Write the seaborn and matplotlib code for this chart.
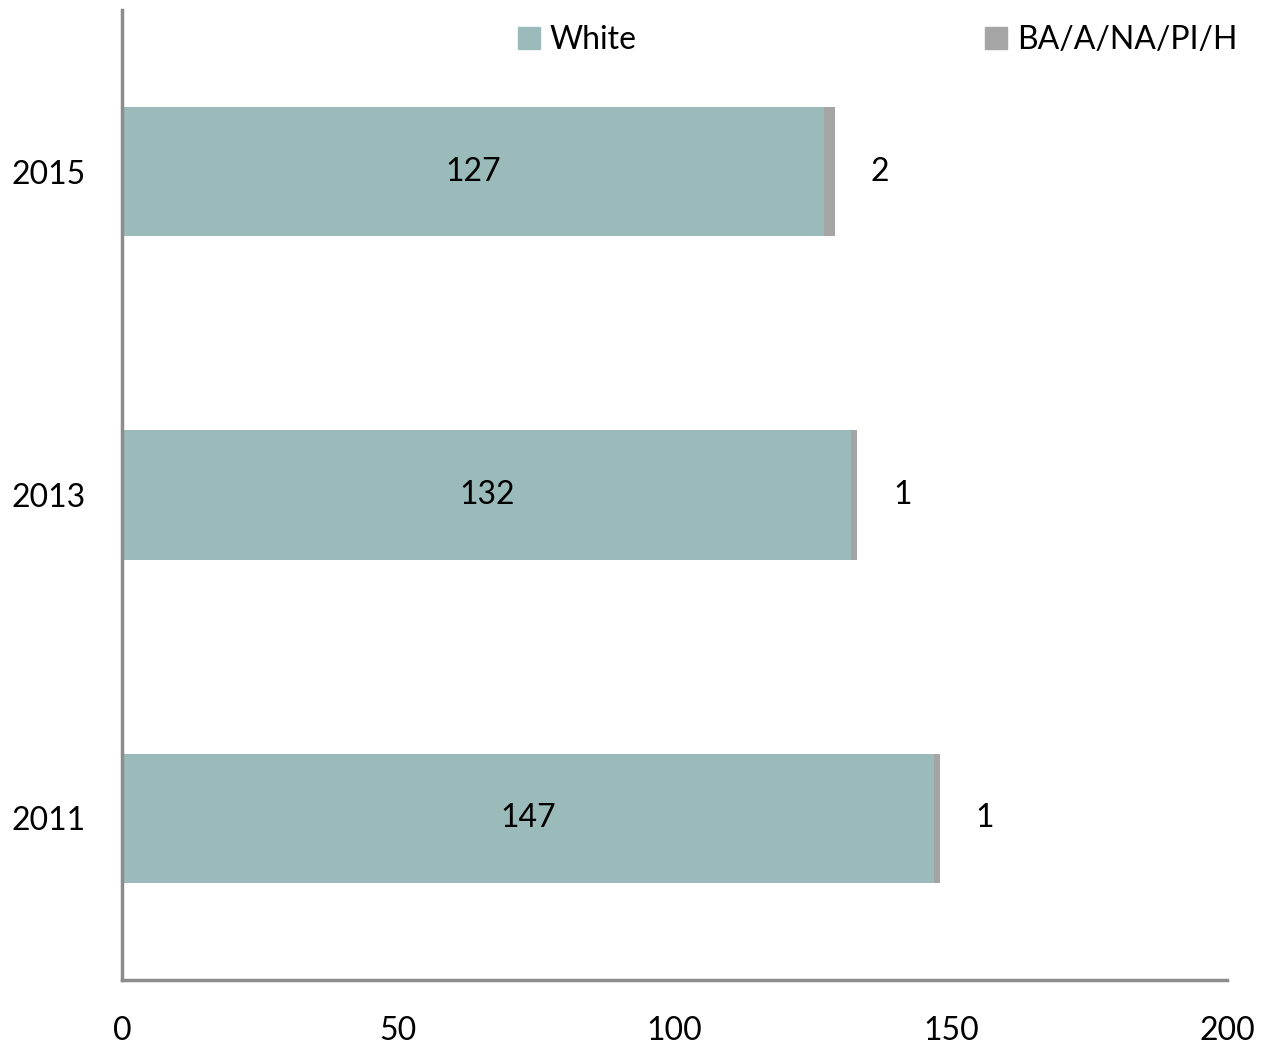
import pandas as pd
import seaborn as sns
import matplotlib.pyplot as plt
from matplotlib.patches import Patch

# chart values
years = ["2015", "2013", "2011"]
white = [127, 132, 147]
other = [2, 1, 1]
x_ticks = [0, 50, 100, 150, 200]

white_color = "#9BBBBB"
other_color = "#A5A5A5"

df = pd.DataFrame({"year": years, "White": white, "BA/A/NA/PI/H": other})
df["total"] = df["White"] + df["BA/A/NA/PI/H"]

sns.set_style("white")
plt.rcParams["font.family"] = ["Lato", "DejaVu Sans"]
plt.rcParams["text.color"] = "black"
plt.rcParams["xtick.color"] = "black"
plt.rcParams["ytick.color"] = "black"

fig = plt.figure(figsize=(12.68, 10.54), dpi=100)
ax = fig.add_axes([122 / 1268, 1 - 980 / 1054, (1227 - 122) / 1268, 970 / 1054])

# stacked bars: total in grey underneath, white on top
sns.barplot(data=df, x="total", y="year", order=years, color=other_color,
            width=0.4, saturation=1, linewidth=0, ax=ax)
sns.barplot(data=df, x="White", y="year", order=years, color=white_color,
            width=0.4, saturation=1, linewidth=0, ax=ax)

tot_bars = ax.containers[0]
white_bars = ax.containers[1]
ax.bar_label(white_bars, labels=[str(v) for v in white], label_type="center",
             fontsize=23, color="black")
ax.bar_label(tot_bars, labels=[str(v) for v in other], padding=26,
             fontsize=23, color="black")

ax.set_xlim(0, 200)
ax.set_ylim(2.5, -0.5)
ax.set_xticks(x_ticks)
ax.set_xlabel("")
ax.set_ylabel("")
ax.tick_params(axis="both", length=0, labelsize=23, labelcolor="black")
ax.tick_params(axis="x", pad=26)
ax.tick_params(axis="y", pad=26)

for side in ["top", "right"]:
    ax.spines[side].set_visible(False)
for side in ["left", "bottom"]:
    ax.spines[side].set_color("#8C8C8C")
    ax.spines[side].set_linewidth(2.5)

handles = [Patch(color=white_color, label="White"),
           Patch(color=other_color, label="BA/A/NA/PI/H")]
fig.legend(handles=handles, loc="center left", bbox_to_anchor=(489 / 1268, 1 - 40 / 1054),
           ncol=2, frameon=False, fontsize=23, handlelength=0.7, handleheight=0.7,
           handletextpad=0.3, columnspacing=10.9)

fig.savefig("out.png", dpi=100)
